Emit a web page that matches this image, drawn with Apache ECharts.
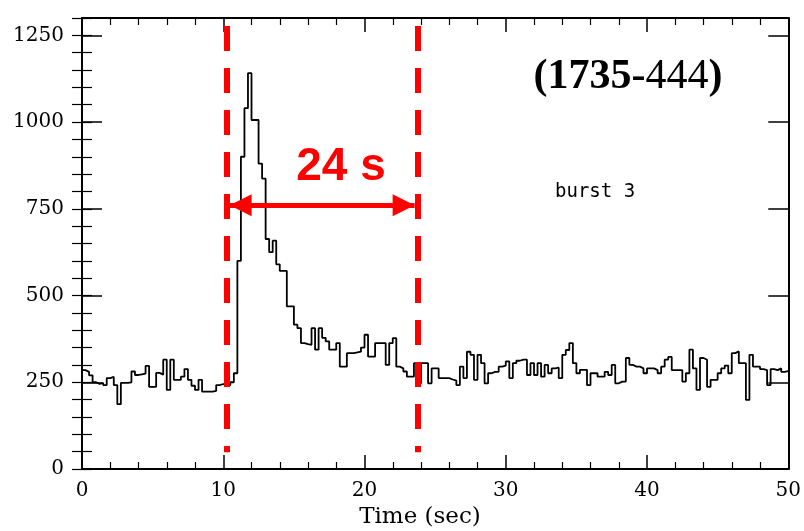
<!DOCTYPE html>
<html>
<head>
<meta charset="utf-8">
<script src="https://cdn.jsdelivr.net/npm/echarts@6/dist/echarts.min.js"></script>
<style>
  html, body { margin: 0; padding: 0; background: #ffffff; }
  #chart { width: 804px; height: 531px; }
</style>
</head>
<body>
<div id="chart"></div>
<script>
// Light curve of burst 3 from 1735-444: counts per 0.25 s bin, 0-50 s
const binWidth = 0.25;
const counts = [
  285, 280, 270, 250, 245, 248, 242, 262, 266, 242,
  187, 248, 248, 250, 281, 271, 273, 275, 297, 237,
  237, 277, 272, 315, 228, 315, 257, 257, 266, 288,
  257, 240, 228, 257, 223, 223, 223, 225, 242, 245,
  240, 242, 250, 276, 600, 900, 1040, 1141, 1006, 1006,
  880, 837, 663, 625, 658, 590, 571, 571, 469, 469,
  416, 406, 363, 360, 358, 406, 344, 406, 378, 368,
  344, 344, 363, 295, 295, 334, 334, 336, 338, 350,
  387, 324, 324, 363, 363, 363, 300, 363, 377, 295,
  290, 281, 266, 266, 305, 247, 305, 305, 247, 290,
  290, 262, 262, 262, 258, 255, 242, 295, 262, 338,
  329, 257, 329, 305, 247, 276, 280, 280, 295, 298,
  310, 262, 305, 312, 315, 315, 271, 305, 271, 305,
  266, 300, 276, 290, 292, 262, 329, 343, 363, 305,
  276, 286, 286, 242, 276, 276, 266, 266, 280, 271,
  300, 247, 252, 252, 320, 300, 295, 295, 290, 276,
  290, 290, 285, 276, 295, 315, 323, 285, 285, 285,
  252, 276, 344, 290, 228, 320, 315, 237, 257, 257,
  276, 290, 298, 276, 334, 339, 305, 305, 199, 329,
  295, 295, 288, 285, 242, 288, 285, 290, 280, 282
];

// Axis ranges and tick steps
const timeRange = [0, 50];
const timeMajorStep = 10;
const countRange = [0, 1300];
const countMajorStep = 250;
const countMinorStep = 50;

// Burst window markers and annotation texts
const windowStart = 10.25;
const windowEnd = 23.75;
const windowSpan = [48, 1277];
const arrowLevel = 760;
const windowLabel = '24 s';
const sourceName = ['(1735-', '444', ')'];
const burstLabel = 'burst 3';
const timeAxisName = 'Time (sec)';

// Bin edges -> step polyline (last edge repeats final value)
const histData = counts.map((c, i) => [i * binWidth, c]);
histData.push([counts.length * binWidth, counts[counts.length - 1]]);

const ink = '#000000';
const red = '#ff0000';
const tickFont = { fontFamily: 'DejaVu Serif', fontSize: 20, color: ink };
const frameLine = { show: true, onZero: false, lineStyle: { color: ink, width: 2 } };

// Arrow heads are centred on their end points; pull them in so the tips meet the dashed lines
const headSize = 22;
const gridLeft = 82, gridRight = 8, chartWidth = 804;
const pxPerSec = (chartWidth - gridLeft - gridRight) / (timeRange[1] - timeRange[0]);
const headInset = (headSize / 2 + 3) / pxPerSec;

const chart = echarts.init(document.getElementById('chart'), null, { renderer: 'canvas' });

chart.setOption({
  animation: false,
  backgroundColor: '#ffffff',
  grid: { left: gridLeft, right: gridRight, top: 18, bottom: 62, containLabel: false },
  xAxis: [
    {
      type: 'value', position: 'bottom',
      min: timeRange[0], max: timeRange[1], interval: timeMajorStep,
      axisLine: frameLine,
      axisTick: { show: true, inside: true, length: 14, lineStyle: { color: ink, width: 1.5 } },
      minorTick: { show: true, splitNumber: 5, length: 7, lineStyle: { color: ink, width: 1.2 } },
      axisLabel: Object.assign({ margin: 12 }, tickFont),
      splitLine: { show: false }
    },
    {
      type: 'value', position: 'top',
      min: timeRange[0], max: timeRange[1], interval: timeMajorStep,
      axisLine: frameLine,
      axisTick: { show: true, inside: true, length: 14, lineStyle: { color: ink, width: 1.5 } },
      minorTick: { show: true, splitNumber: 5, length: 7, lineStyle: { color: ink, width: 1.2 } },
      axisLabel: { show: false },
      splitLine: { show: false }
    }
  ],
  yAxis: [
    {
      type: 'value', position: 'left',
      min: countRange[0], max: countRange[1], interval: countMajorStep,
      axisLine: frameLine,
      axisTick: { show: true, inside: true, length: 20, lineStyle: { color: ink, width: 1.5 } },
      axisLabel: Object.assign({
        margin: 18,
        formatter: v => (v % countMajorStep === 0 ? String(v) : '')
      }, tickFont),
      splitLine: { show: false }
    },
    {
      type: 'value', position: 'left',
      min: countRange[0], max: countRange[1], interval: countMinorStep,
      axisLine: { show: false },
      axisTick: { show: true, inside: true, length: 10, lineStyle: { color: ink, width: 1.2 } },
      axisLabel: { show: false },
      splitLine: { show: false }
    },
    {
      type: 'value', position: 'right',
      min: countRange[0], max: countRange[1], interval: countMajorStep,
      axisLine: frameLine,
      axisTick: { show: true, inside: true, length: 20, lineStyle: { color: ink, width: 1.5 } },
      axisLabel: { show: false },
      splitLine: { show: false }
    },
    {
      type: 'value', position: 'right',
      min: countRange[0], max: countRange[1], interval: countMinorStep,
      axisLine: { show: false },
      axisTick: { show: true, inside: true, length: 10, lineStyle: { color: ink, width: 1.2 } },
      axisLabel: { show: false },
      splitLine: { show: false }
    }
  ],
  series: [
    {
      name: 'counts',
      type: 'line',
      xAxisIndex: 0,
      yAxisIndex: 0,
      step: 'end',
      data: histData,
      showSymbol: false,
      symbol: 'none',
      lineStyle: { color: ink, width: 1.8 },
      silent: true,
      z: 2
    },
    {
      name: 'window',
      type: 'line',
      xAxisIndex: 0,
      yAxisIndex: 0,
      data: [],
      silent: true,
      z: 5,
      markLine: {
        silent: true,
        animation: false,
        symbol: 'none',
        label: { show: false },
        emphasis: { disabled: true },
        data: [
          [
            { coord: [windowStart, windowSpan[1]], lineStyle: { color: red, width: 6, type: [25, 17] } },
            { coord: [windowStart, windowSpan[0]] }
          ],
          [
            { coord: [windowEnd, windowSpan[1]], lineStyle: { color: red, width: 6, type: [25, 17] } },
            { coord: [windowEnd, windowSpan[0]] }
          ],
          [
            { coord: [windowStart + headInset, arrowLevel], symbol: 'triangle', symbolSize: [headSize, headSize],
              lineStyle: { color: red, width: 5, type: 'solid' } },
            { coord: [windowEnd - headInset, arrowLevel], symbol: 'triangle', symbolSize: [headSize, headSize] }
          ],
          [
            { coord: [windowStart + 0.2, arrowLevel], symbol: 'none',
              lineStyle: { color: red, width: 5, type: 'solid' } },
            { coord: [windowEnd - 0.2, arrowLevel], symbol: 'none' }
          ]
        ]
      }
    }
  ],
  graphic: [
    {
      type: 'text', x: 341, y: 167, silent: true, z: 10,
      style: {
        text: windowLabel, fill: red,
        fontFamily: 'Liberation Sans', fontWeight: 'bold', fontSize: 46,
        align: 'center', verticalAlign: 'middle'
      }
    },
    {
      type: 'text', x: 628, y: 77, silent: true, z: 10,
      style: {
        text: '{b|' + sourceName[0] + '}{r|' + sourceName[1] + '}{b|' + sourceName[2] + '}',
        align: 'center', verticalAlign: 'middle',
        rich: {
          b: { fontFamily: 'Liberation Serif', fontWeight: 'bold', fontSize: 42, fill: ink },
          r: { fontFamily: 'Liberation Serif', fontWeight: 'normal', fontSize: 42, fill: ink }
        }
      }
    },
    {
      type: 'text', x: 555, y: 192, silent: true, z: 10,
      style: {
        text: burstLabel, fill: ink,
        fontFamily: 'DejaVu Sans Mono', fontSize: 19,
        align: 'left', verticalAlign: 'middle'
      }
    },
    {
      type: 'text', x: 420, y: 517, silent: true, z: 10,
      style: {
        text: timeAxisName, fill: ink,
        fontFamily: 'DejaVu Serif', fontSize: 23,
        align: 'center', verticalAlign: 'middle'
      }
    }
  ]
});
</script>
</body>
</html>
